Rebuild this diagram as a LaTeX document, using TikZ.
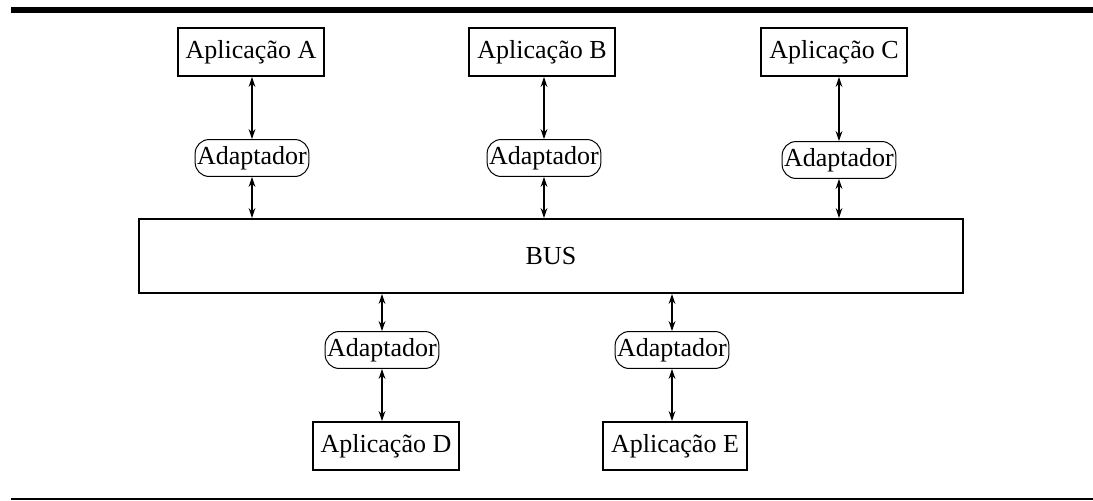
\documentclass[tikz,border=0pt]{standalone}
\usepackage{fontspec}
\setmainfont{Liberation Serif}
\usetikzlibrary{arrows.meta}

\tikzset{
  appbox/.style={draw,line width=1pt,inner xsep=4pt,minimum height=24pt,
    font=\fontsize{13}{15}\selectfont},
  adapbox/.style={draw,line width=0.5pt,rounded corners=7pt,inner xsep=1pt,
    minimum height=16pt,font=\fontsize{13}{15}\selectfont},
  busbox/.style={draw,line width=1pt,minimum width=412pt,minimum height=37pt,
    font=\fontsize{13}{15}\selectfont},
  link/.style={{Stealth[length=5pt,width=3.4pt]}-{Stealth[length=5pt,width=3.4pt]},line width=0.6pt}
}

\begin{document}
\begin{tikzpicture}[x=0.5pt,y=-0.5pt]
   \useasboundingbox (0,0) rectangle (1093,500);
   \draw[line width=3pt] (11,10) -- (1093,10);
   \draw[line width=0.75pt] (11,499) -- (1093,499);

   \node[busbox] (bus) at (551,256) {BUS};

   \node[appbox] (appA) at (251,52) {Aplicação A};
   \node[appbox] (appB) at (542,52) {Aplicação B};
   \node[appbox] (appC) at (834,52) {Aplicação C};
   \node[appbox] (appD) at (386,446) {Aplicação D};
   \node[appbox] (appE) at (675,446) {Aplicação E};

   \node[adapbox] (adA) at (252,158) {Adaptador};
   \node[adapbox] (adB) at (544,158) {Adaptador};
   \node[adapbox] (adC) at (839,160) {Adaptador};
   \node[adapbox] (adD) at (382,350) {Adaptador};
   \node[adapbox] (adE) at (672,350) {Adaptador};

   \draw[link] (appA.south -| adA.north) -- (adA.north);
   \draw[link] (adA.south) -- (adA.south |- bus.north);
   \draw[link] (appB.south -| adB.north) -- (adB.north);
   \draw[link] (adB.south) -- (adB.south |- bus.north);
   \draw[link] (appC.south -| adC.north) -- (adC.north);
   \draw[link] (adC.south) -- (adC.south |- bus.north);
   \draw[link] (adD.north |- bus.south) -- (adD.north);
   \draw[link] (adD.south) -- (appD.north -| adD.south);
   \draw[link] (adE.north |- bus.south) -- (adE.north);
   \draw[link] (adE.south) -- (appE.north -| adE.south);
\end{tikzpicture}
\end{document}
